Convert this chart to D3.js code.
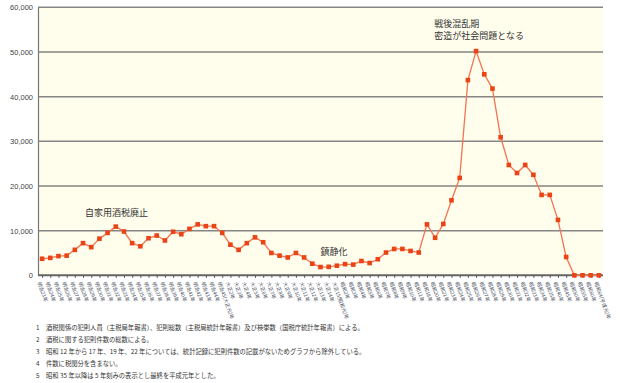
<!DOCTYPE html>
<html>
<head>
<meta charset="utf-8">
<script src="https://cdn.jsdelivr.net/npm/d3@7/dist/d3.min.js"></script>
<style>
  body { margin: 0; background: #fff; }
  text { font-family: "Noto Sans CJK JP", "Noto Sans", sans-serif; }
</style>
</head>
<body>
<svg id="chart" width="620" height="383"></svg>
<script>
// 年ラベル
const years = [
  "明治23年","明治24年","明治25年","明治26年","明治27年","明治28年","明治29年","明治30年",
  "明治31年","明治32年","明治33年","明治34年","明治35年","明治36年","明治37年","明治38年",
  "明治39年","明治40年","明治41年","明治42年","明治43年","明治44年","明治45(大正元)年",
  "大正2年","大正3年","大正4年","大正5年","大正6年","大正7年","大正8年","大正9年",
  "大正10年","大正11年","大正12年","大正13年","大正14年","大正15(昭和元)年",
  "昭和2年","昭和3年","昭和4年","昭和5年","昭和6年","昭和7年","昭和8年","昭和9年",
  "昭和10年","昭和11年","昭和18年","昭和20年","昭和21年",
  "昭和23年","昭和24年","昭和25年","昭和26年","昭和27年","昭和28年","昭和29年","昭和30年",
  "昭和31年","昭和32年","昭和33年","昭和34年","昭和35年",
  "昭和40年","昭和45年","昭和50年","昭和55年","昭和60年","昭和64(平成元)年"
];

// 犯則件数
const cases = [
  3700, 3900, 4300, 4400, 5700, 7200, 6300, 8200, 9500, 10900, 9800, 7200, 6500, 8300, 8900, 7800,
  9750, 9200, 10400, 11400, 11000, 11000, 9500, 6850, 5700, 7200, 8500, 7400, 5000, 4400, 4000, 5000,
  4000, 2600, 1850, 1900, 2150, 2500, 2400, 3200, 2750, 3600, 5100, 5900, 5900, 5450, 5100,
  11400, 8400, 11500,
  16800, 21800, 43700, 50200, 45000, 41800, 30900, 24700, 22900, 24700, 22500, 18000, 18000,
  12400, 4100, 0, 0, 0, 0
];

const yTicks = [0, 10000, 20000, 30000, 40000, 50000, 60000];

const notes = [
  ["1", "酒税関係の犯則人員（主税局年報書）、犯則総数（主税局統計年報書）及び検挙数（国税庁統計年報書）による。"],
  ["2", "酒税に関する犯則件数の総数による。"],
  ["3", "昭和 12 年から 17 年、19 年、22 年については、統計記録に犯則件数の記載がないためグラフから除外している。"],
  ["4", "件数に税関分を含まない。"],
  ["5", "昭和 35 年以降は 5 年刻みの表示とし最終を平成元年とした。"]
];

const labels = [
  { t: "自家用酒税廃止", i: 5, v: 13300, dx: 2 },
  { t: "鎮静化", i: 34, v: 4600, dx: 0 },
  { t: "戦後混乱期", i: 49, v: 55600, dx: -9 },
  { t: "密造が社会問題となる", i: 49, v: 53000, dx: -9 }
];

const svg = d3.select('#chart');
const mLeft = 38, mRight = 603, mTop = 7.3, mBottom = 275.3;

const x = d3.scalePoint()
  .domain(years)
  .range([mLeft, mRight])
  .padding(0.5);

const y = d3.scaleLinear()
  .domain([0, 60000])
  .range([mBottom, mTop]);

// 背景
svg.append('rect')
  .attr('x', mLeft)
  .attr('y', mTop)
  .attr('width', mRight - mLeft)
  .attr('height', mBottom - mTop)
  .attr('fill', '#fffdec');

// 目盛線
svg.append('g')
  .selectAll('line')
  .data(yTicks.slice(1))
  .join('line')
  .attr('x1', mLeft)
  .attr('x2', mRight)
  .attr('y1', d => y(d))
  .attr('y2', d => y(d))
  .attr('stroke', '#858585')
  .attr('stroke-width', 1.5);

// y軸
const yAxis = svg.append('g')
  .attr('transform', `translate(${mLeft},0)`)
  .call(d3.axisLeft(y).tickValues(yTicks).tickSize(0).tickPadding(5).tickFormat(d3.format(',')));
yAxis.select('.domain').attr('stroke', '#777').attr('stroke-width', 1.2);
yAxis.selectAll('text')
  .attr('fill', '#444')
  .style('font-family', 'Arial, "Liberation Sans", sans-serif')
  .style('font-size', '7.5px');

// x軸
const xAxis = svg.append('g')
  .attr('transform', `translate(0,${mBottom})`)
  .call(d3.axisBottom(x).tickSize(2.5).tickPadding(2));
xAxis.select('.domain')
  .attr('d', `M${mLeft},0H${mRight}`)
  .attr('stroke', '#666')
  .attr('stroke-width', 2);
xAxis.selectAll('.tick line').attr('stroke', '#555');
xAxis.selectAll('text')
  .attr('fill', '#4a4f60')
  .style('font-size', '5px')
  .attr('text-anchor', 'start')
  .attr('dy', 0)
  .attr('transform', 'translate(-1,6) rotate(70)');

// 折れ線
const line = d3.line()
  .x((d, i) => x(years[i]))
  .y(d => y(d));

svg.append('path')
  .datum(cases)
  .attr('d', line)
  .attr('fill', 'none')
  .attr('stroke', '#f27552')
  .attr('stroke-width', 1.3);

svg.append('g')
  .selectAll('rect')
  .data(cases)
  .join('rect')
  .attr('x', (d, i) => x(years[i]) - 2.3)
  .attr('y', d => y(d) - 2.3)
  .attr('width', 4.6)
  .attr('height', 4.6)
  .attr('fill', '#ea4315');

// 注記
svg.append('g')
  .selectAll('text')
  .data(labels)
  .join('text')
  .attr('x', d => x(years[d.i]) + d.dx)
  .attr('y', d => y(d.v))
  .attr('fill', '#333')
  .style('font-size', '9px')
  .text(d => d.t);

// 脚注
const foot = svg.append('g');
foot.selectAll('text.num')
  .data(notes)
  .join('text')
  .attr('class', 'num')
  .attr('x', 36)
  .attr('y', (d, i) => 330 + i * 12)
  .attr('fill', '#333')
  .style('font-size', '6.3px')
  .text(d => d[0]);
foot.selectAll('text.body')
  .data(notes)
  .join('text')
  .attr('class', 'body')
  .attr('x', 46)
  .attr('y', (d, i) => 330 + i * 12)
  .attr('fill', '#333')
  .style('font-size', '6.3px')
  .text(d => d[1]);
</script>
</body>
</html>
